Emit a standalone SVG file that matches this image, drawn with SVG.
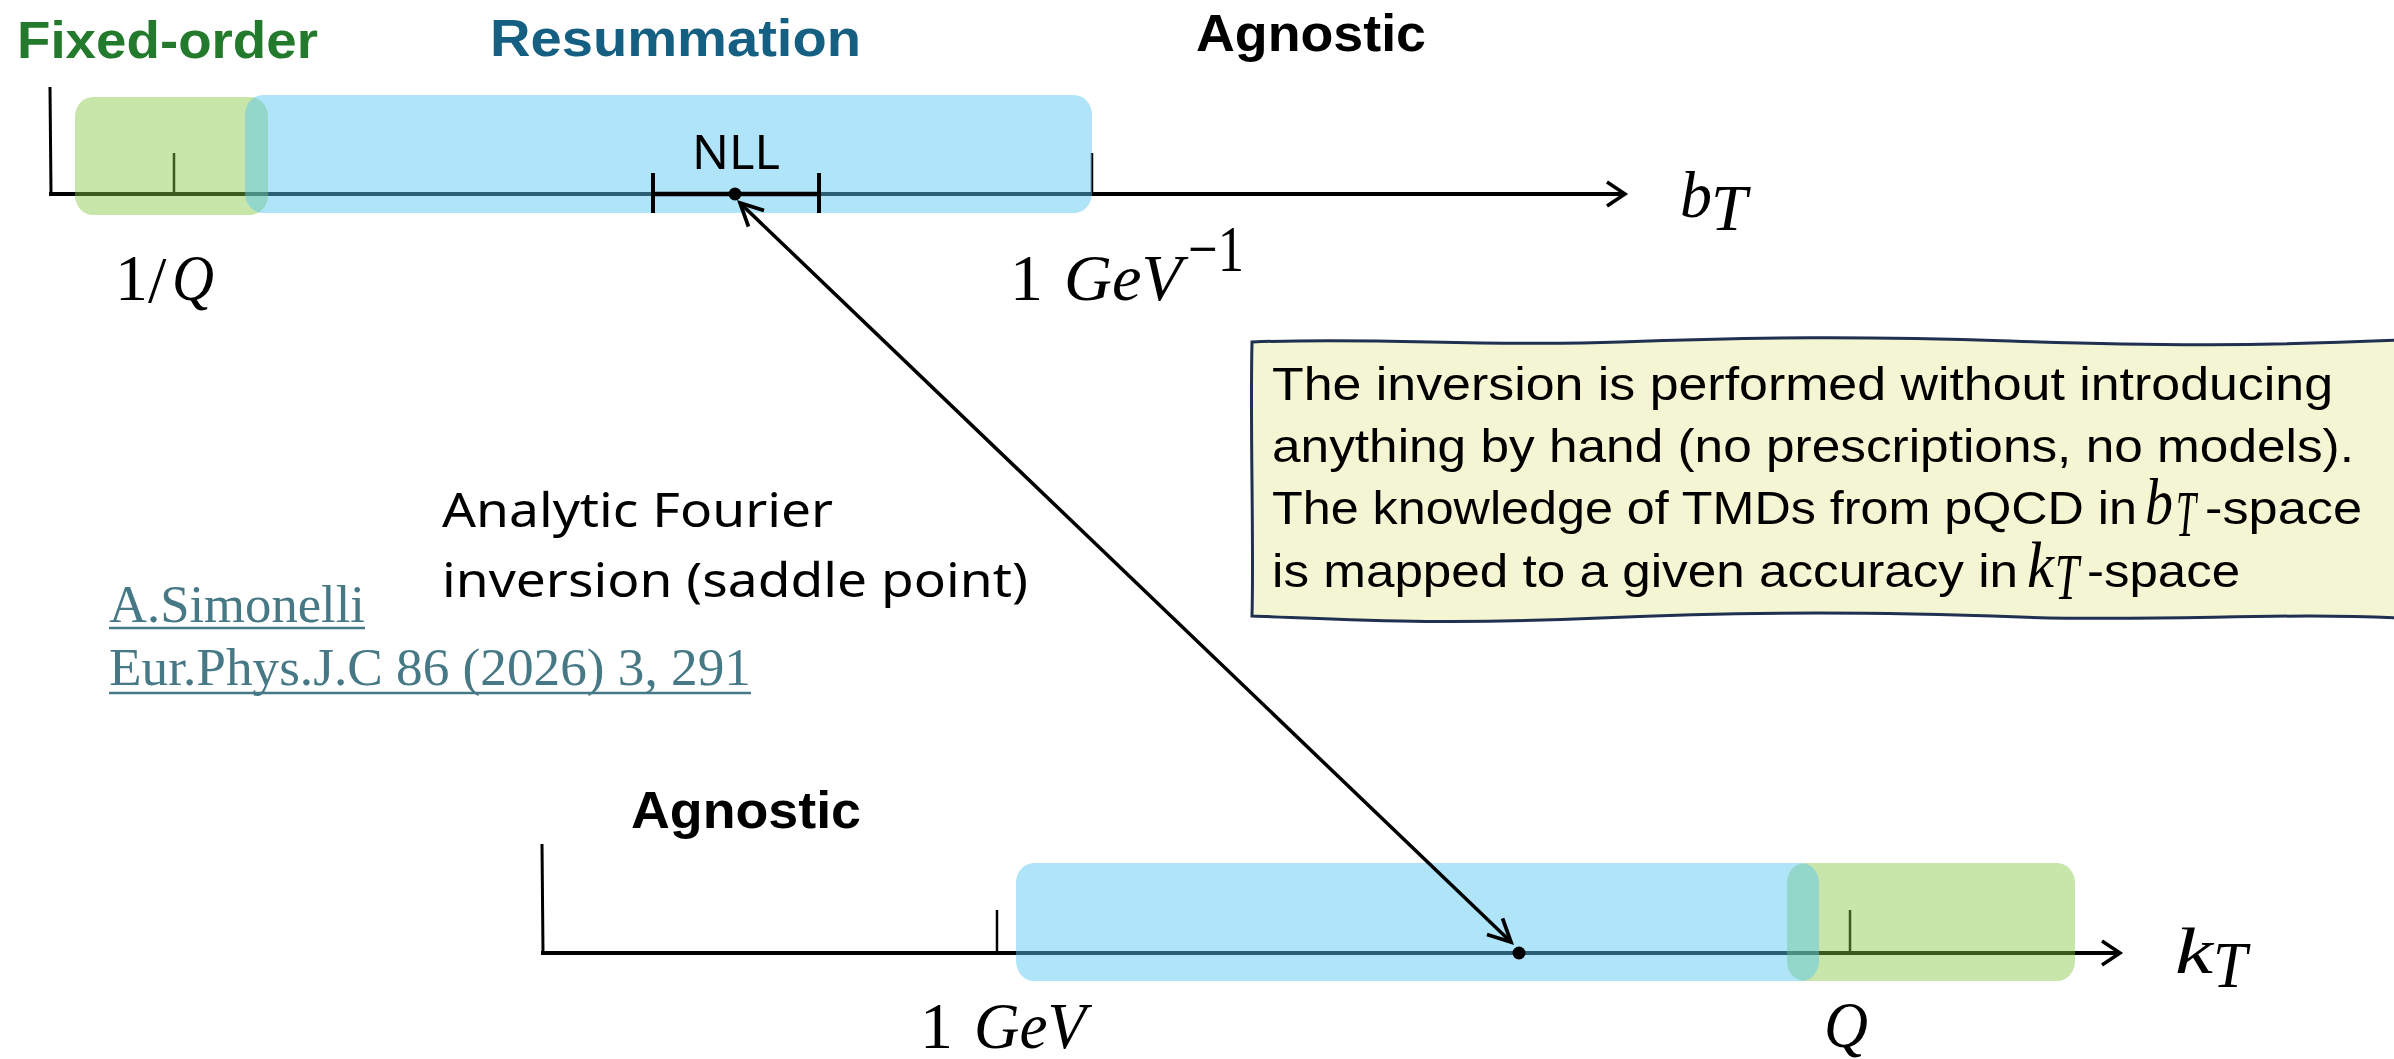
<svg xmlns="http://www.w3.org/2000/svg" width="2394" height="1059" viewBox="0 0 2394 1059">
<style>
.ax{stroke:#000;stroke-width:4;fill:none}
.vax{stroke:#000;stroke-width:3;fill:none}
.tk{stroke:#000;stroke-width:2.5;fill:none}
.blue{fill:rgb(90,198,240);fill-opacity:0.48}
.green{fill:rgb(133,200,67);fill-opacity:0.45}
.head{font-family:"Liberation Sans",Arial,sans-serif;font-weight:bold;font-size:52px}
.sans{font-family:"Noto Sans","Liberation Sans",sans-serif;font-size:48px;fill:#000}
.box{font-family:"Liberation Sans",Arial,sans-serif;font-size:46px;fill:#000}
.math{font-family:"Liberation Serif","Times New Roman",serif;font-size:66px;fill:#000}
.it{font-style:italic}
.link{font-family:"Liberation Serif","Times New Roman",serif;font-size:52px;fill:#467886}
</style>
<defs>
<marker id="axhead" markerUnits="userSpaceOnUse" markerWidth="30" markerHeight="30" viewBox="-22 -15 26 30" refX="0" refY="0" orient="auto">
<path d="M-18,-12 L0,0 L-18,12" fill="none" stroke="#000" stroke-width="3.5"/>
</marker>
<marker id="dhead" markerUnits="userSpaceOnUse" markerWidth="30" markerHeight="30" viewBox="-24 -14 28 28" refX="0" refY="0" orient="auto-start-reverse">
<path d="M-21,-10.5 L0,0 L-21,10.5" fill="none" stroke="#000" stroke-width="3.5"/>
</marker>
</defs>
<rect width="2394" height="1059" fill="#fff"/>

<g id="labels-top">
<text class="head" x="17" y="58" fill="#237a2c" textLength="301" lengthAdjust="spacingAndGlyphs">Fixed-order</text>
<text class="head" x="490" y="56" fill="#156082" textLength="371" lengthAdjust="spacingAndGlyphs">Resummation</text>
<text class="head" x="1196" y="51" fill="#000" textLength="230" lengthAdjust="spacingAndGlyphs">Agnostic</text>
</g>

<g id="bT-axis">
<line class="vax" x1="50" y1="87" x2="51" y2="194"/>
<line class="ax" x1="49" y1="194" x2="1625" y2="194" marker-end="url(#axhead)"/>
<line class="tk" x1="174" y1="153" x2="174" y2="194"/>
<line class="tk" x1="1092" y1="153" x2="1092" y2="194"/>
<rect id="bT-fixed" class="green" x="75" y="97" width="193" height="118" rx="18" ry="20"/>
<rect id="bT-resum" class="blue" x="245" y="95" width="847" height="118" rx="18" ry="20"/>
<g id="nll">
<line x1="653" y1="194" x2="819" y2="194" stroke="#000" stroke-width="4.5"/>
<line x1="653" y1="173" x2="653" y2="213" stroke="#000" stroke-width="4"/>
<line x1="819" y1="173" x2="819" y2="213" stroke="#000" stroke-width="4"/>
<circle cx="735" cy="194" r="6.5" fill="#000"/>
<text class="sans" x="692" y="169" font-size="50" textLength="88" lengthAdjust="spacingAndGlyphs">NLL</text>
</g>
<text class="math" x="115" y="300">1</text>
<text class="math" x="148" y="302" font-size="72">/</text>
<text class="math it" x="172" y="300" textLength="42" lengthAdjust="spacingAndGlyphs">Q</text>
<text class="math" x="1010" y="300">1</text>
<text class="math it" x="1064" y="300" textLength="118" lengthAdjust="spacingAndGlyphs">GeV</text>
<text class="math" x="1188" y="271" font-size="44" textLength="56" lengthAdjust="spacingAndGlyphs">−1</text>
<text class="math it" x="1680" y="217" textLength="32" lengthAdjust="spacingAndGlyphs">b</text>
<text class="math it" x="1711" y="230" font-size="44" textLength="36" lengthAdjust="spacingAndGlyphs">T</text>
</g>

<g id="kT-axis">
<text class="head" x="631" y="828" fill="#000" textLength="230" lengthAdjust="spacingAndGlyphs">Agnostic</text>
<line class="vax" x1="542" y1="844" x2="543" y2="953"/>
<line class="ax" x1="541" y1="953" x2="2120" y2="953" marker-end="url(#axhead)"/>
<line class="tk" x1="997" y1="910" x2="997" y2="953"/>
<line class="tk" x1="1850" y1="910" x2="1850" y2="953"/>
<rect id="kT-fixed" class="green" x="1787" y="863" width="288" height="118" rx="18" ry="20"/>
<rect id="kT-resum" class="blue" x="1016" y="863" width="803" height="118" rx="18" ry="20"/>
<circle cx="1519" cy="953" r="6.5" fill="#000"/>
<text class="math" x="920" y="1048">1</text>
<text class="math it" x="974" y="1048" textLength="112" lengthAdjust="spacingAndGlyphs">GeV</text>
<text class="math it" x="1824" y="1047" textLength="44" lengthAdjust="spacingAndGlyphs">Q</text>
<text class="math it" x="2175" y="973" textLength="38" lengthAdjust="spacingAndGlyphs">k</text>
<text class="math it" x="2213" y="987" font-size="44" textLength="34" lengthAdjust="spacingAndGlyphs">T</text>
</g>

<g id="connectors">
<line x1="740" y1="203" x2="1511" y2="942" stroke="#000" stroke-width="3.5" marker-start="url(#dhead)" marker-end="url(#dhead)"/>
</g>

<g id="fourier-label">
<text class="sans" x="442" y="527" font-size="52" textLength="391" lengthAdjust="spacingAndGlyphs">Analytic Fourier</text>
<text class="sans" x="442" y="597" font-size="52" textLength="586" lengthAdjust="spacingAndGlyphs">inversion (saddle point)</text>
</g>

<g id="reference">
<text class="link" x="109" y="622" textLength="256" lengthAdjust="spacingAndGlyphs">A.Simonelli</text>
<line x1="109" y1="628" x2="365" y2="628" stroke="#467886" stroke-width="2.7"/>
<text class="link" x="109" y="685" textLength="642" lengthAdjust="spacingAndGlyphs">Eur.Phys.J.C 86 (2026) 3, 291</text>
<line x1="109" y1="693" x2="751" y2="693" stroke="#467886" stroke-width="2.7"/>
</g>

<g id="note-box">
<path d="M1252,342 C1380,337 1480,347 1620,342 S1860,336 2010,341 S2260,346 2400,340 L2400,618 C2280,612 2160,622 2020,617 S1760,611 1600,618 S1360,620 1252,616 C1254,540 1250,430 1252,342 Z" fill="#f4f6d3" stroke="#1f3050" stroke-width="3"/>
<text class="box" x="1272" y="400" textLength="1061" lengthAdjust="spacingAndGlyphs">The inversion is performed without introducing</text>
<text class="box" x="1272" y="462" textLength="1082" lengthAdjust="spacingAndGlyphs">anything by hand (no prescriptions, no models).</text>
<text class="box" x="1272" y="524" textLength="865" lengthAdjust="spacingAndGlyphs">The knowledge of TMDs from pQCD in</text>
<text class="math it" x="2145" y="524" font-size="46" textLength="28" lengthAdjust="spacingAndGlyphs">b</text>
<text class="math it" x="2176" y="536" font-size="31" textLength="20" lengthAdjust="spacingAndGlyphs">T</text>
<text class="box" x="2205" y="524" textLength="157" lengthAdjust="spacingAndGlyphs">-space</text>
<text class="box" x="1272" y="587" textLength="746" lengthAdjust="spacingAndGlyphs">is mapped to a given accuracy in</text>
<text class="math it" x="2027" y="587" font-size="46" textLength="27" lengthAdjust="spacingAndGlyphs">k</text>
<text class="math it" x="2055" y="599" font-size="31" textLength="24" lengthAdjust="spacingAndGlyphs">T</text>
<text class="box" x="2087" y="587" textLength="153" lengthAdjust="spacingAndGlyphs">-space</text>
</g>
</svg>
